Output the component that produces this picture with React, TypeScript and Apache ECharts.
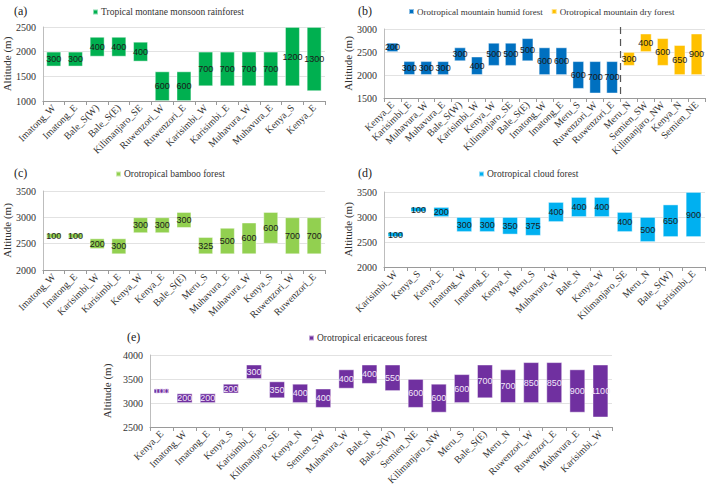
import React, { useEffect, useRef } from "react";
import * as echarts from "echarts";

// (a) Tropical montane monsoon rainforest
const aCats = ["Imatong_W", "Imatong_E", "Bale_S(W)", "Bale_S(E)", "Kilimanjaro_SE", "Ruwenzori_W", "Ruwenzori_E", "Karisimbi_W", "Karisimbi_E", "Muhavura_W", "Muhavura_E", "Kenya_S", "Kenya_E"];
const aLow = [1700, 1700, 1900, 1900, 1800, 1000, 1000, 1300, 1300, 1300, 1300, 1300, 1200];
const aRange = [300, 300, 400, 400, 400, 600, 600, 700, 700, 700, 700, 1200, 1300];

// (b) Orotropical mountain humid / dry forest
const bCats = ["Kenya_E", "Karisimbi_E", "Muhavura_W", "Muhavura_E", "Bale_S(W)", "Karisimbi_W", "Kenya_W", "Kilimanjaro_SE", "Bale_S(E)", "Imatong_W", "Imatong_E", "Meru_S", "Ruwenzori_W", "Ruwenzori_E", "Meru_N", "Semien_SW", "Kilimanjaro_NW", "Kenya_N", "Semien_NE"];
const bLow = [2500, 2000, 2000, 2000, 2300, 2000, 2200, 2200, 2300, 2000, 2000, 1700, 1600, 1600, 2200, 2500, 2200, 2000, 2000];
const bHumid: (number | string)[] = [200, 300, 300, 300, 300, 400, 500, 500, 500, 600, 600, 600, 700, 700, "-", "-", "-", "-", "-"];
const bDry: (number | string)[] = ["-", "-", "-", "-", "-", "-", "-", "-", "-", "-", "-", "-", "-", "-", 300, 400, 600, 650, 900];

// (c) Orotropical bamboo forest
const cCats = ["Imatong_W", "Imatong_E", "Karisimbi_W", "Karisimbi_E", "Kenya_W", "Kenya_E", "Bale_S(E)", "Meru_S", "Muhavura_E", "Muhavura_W", "Kenya_S", "Ruwenzori_W", "Ruwenzori_E"];
const cLow = [2600, 2600, 2400, 2300, 2700, 2700, 2800, 2300, 2300, 2300, 2500, 2300, 2300];
const cRange = [100, 100, 200, 300, 300, 300, 300, 325, 500, 600, 600, 700, 700];

// (d) Orotropical cloud forest
const dCats = ["Karisimbi_W", "Kenya_S", "Kenya_E", "Imatong_W", "Imatong_E", "Kenya_N", "Meru_S", "Muhavura_W", "Bale_N", "Kenya_W", "Kilimanjaro_SE", "Meru_N", "Bale_S(W)", "Karisimbi_E"];
const dLow = [2600, 3100, 3000, 2700, 2700, 2650, 2625, 2900, 3000, 3000, 2700, 2500, 2600, 2600];
const dRange = [100, 100, 200, 300, 300, 350, 375, 400, 400, 400, 400, 500, 650, 900];

// (e) Orotropical ericaceous forest
const eCats = ["Kenya_E", "Imatong_W", "Imatong_E", "Kenya_S", "Karisimbi_E", "Kilimanjaro_SE", "Kenya_N", "Semien_SW", "Muhavura_W", "Bale_N", "Bale_S(W)", "Semien_NE", "Kilimanjaro_NW", "Meru_S", "Bale_S(E)", "Meru_N", "Ruwenzori_W", "Ruwenzori_E", "Muhavura_E", "Karisimbi_W"];
const eLow = [3200, 3000, 3000, 3200, 3500, 3100, 3000, 2900, 3300, 3400, 3250, 2900, 2800, 3000, 3100, 3000, 3000, 3000, 2800, 2700];
const eRange = [100, 200, 200, 200, 300, 350, 400, 400, 400, 400, 550, 600, 600, 600, 700, 700, 850, 850, 900, 1100];

const SERIF = "Times New Roman, Liberation Serif, DejaVu Serif, serif";
const SANS = "Liberation Sans Narrow, Liberation Sans, sans-serif";
const AXIS = "#9a9a9a";

const panels = [
  { tag: "(a)", cats: aCats, min: 1000, max: 2500, grid: { left: 41, top: 27, width: 284, height: 74 }, nameGap: 27, tagPos: [14, 12] },
  { tag: "(b)", cats: bCats, min: 1500, max: 3000, grid: { left: 384, top: 29, width: 321, height: 69 }, nameGap: 27, tagPos: [358, 12] },
  { tag: "(c)", cats: cCats, min: 2000, max: 3500, grid: { left: 41, top: 191, width: 284, height: 79 }, nameGap: 27, tagPos: [14, 174] },
  { tag: "(d)", cats: dCats, min: 2000, max: 3500, grid: { left: 384, top: 192, width: 321, height: 75 }, nameGap: 27, tagPos: [358, 174] },
  { tag: "(e)", cats: eCats, min: 2500, max: 4000, grid: { left: 150, top: 355, width: 462, height: 72 }, nameGap: 34, tagPos: [127, 338] },
];

function baseSeries(idx: number, low: number[]) {
  return {
    name: "base" + idx,
    type: "bar",
    stack: "s" + idx,
    xAxisIndex: idx,
    yAxisIndex: idx,
    barCategoryGap: "32%",
    data: low,
    itemStyle: { color: "transparent" },
    emphasis: { disabled: true },
    silent: true,
  };
}

function rangeSeries(idx: number, name: string, data: (number | string)[], color: string, textColor: string) {
  return {
    name,
    type: "bar",
    stack: "s" + idx,
    xAxisIndex: idx,
    yAxisIndex: idx,
    barCategoryGap: "32%",
    data,
    itemStyle: { color, borderColor: "rgba(255,255,255,0.55)", borderWidth: 0.8 },
    label: {
      show: true,
      position: "inside",
      formatter: "{c}",
      color: textColor,
      fontFamily: SANS,
      fontSize: 9,
    },
  };
}

function legend(left: number, top: number, names: string[], size: number) {
  return {
    left,
    top,
    data: names,
    icon: "rect",
    itemWidth: 5,
    itemHeight: 5,
    itemGap: 8,
    padding: 0,
    textStyle: { fontFamily: SERIF, fontSize: size, color: "#333", padding: [0, 0, 0, -2] },
  };
}

export default function App() {
  const ref = useRef<HTMLDivElement>(null);

  useEffect(() => {
    if (!ref.current) return;
    const chart = echarts.init(ref.current, null, { renderer: "svg" });

    const option: any = {
      animation: false,
      backgroundColor: "#ffffff",
      textStyle: { fontFamily: SERIF },
      grid: panels.map((p) => ({ ...p.grid, containLabel: false })),
      xAxis: panels.map((p, i) => ({
        type: "category",
        gridIndex: i,
        data: p.cats,
        boundaryGap: true,
        axisLine: { lineStyle: { color: AXIS, width: 1 } },
        axisTick: { show: true, length: 4, lineStyle: { color: AXIS } },
        axisLabel: { interval: 0, rotate: 45, margin: 5, fontFamily: SERIF, fontSize: 10, color: "#333" },
        splitLine: { show: false },
      })),
      yAxis: panels.map((p, i) => ({
        type: "value",
        gridIndex: i,
        min: p.min,
        max: p.max,
        interval: 500,
        name: "Altitude (m)",
        nameLocation: "middle",
        nameGap: p.nameGap,
        nameTextStyle: { fontFamily: SERIF, fontSize: 11, color: "#333" },
        axisLine: { show: true, lineStyle: { color: "#bdbdbd" } },
        axisTick: { show: false },
        axisLabel: {
          margin: 7,
          fontFamily: SERIF,
          fontSize: 10,
          color: "#333",
          formatter: (v: number) => String(v),
        },
        splitLine: { show: true, lineStyle: { color: "#e2e2e2", width: 1 } },
      })),
      legend: [
        legend(92, 7, ["Tropical montane monsoon rainforest"], 9.5),
        legend(408, 7, ["Orotropical mountain humid forest", "Orotropical mountain dry forest"], 9),
        legend(115, 169, ["Orotropical bamboo forest"], 9.5),
        legend(478, 169, ["Orotropical cloud forest"], 9.5),
        legend(308, 333, ["Orotropical ericaceous forest"], 9.5),
      ],
      series: [
        baseSeries(0, aLow),
        rangeSeries(0, "Tropical montane monsoon rainforest", aRange, "#00b050", "#1a1a1a"),
        baseSeries(1, bLow),
        rangeSeries(1, "Orotropical mountain humid forest", bHumid, "#0070c0", "#1a1a1a"),
        rangeSeries(1, "Orotropical mountain dry forest", bDry, "#ffc000", "#1a1a1a"),
        baseSeries(2, cLow),
        rangeSeries(2, "Orotropical bamboo forest", cRange, "#92d050", "#1a1a1a"),
        baseSeries(3, dLow),
        rangeSeries(3, "Orotropical cloud forest", dRange, "#00b0f0", "#1a1a1a"),
        baseSeries(4, eLow),
        rangeSeries(4, "Orotropical ericaceous forest", eRange, "#7030a0", "#f3e8fa"),
      ],
    };
    chart.setOption(option);

    // Panel tags plus the dashed divider between humid and dry forest in (b)
    const graphic: any[] = panels.map((p) => ({
      type: "text",
      left: p.tagPos[0],
      top: p.tagPos[1] - 7,
      style: { text: p.tag, fontFamily: SERIF, fontSize: 12, fill: "#222" },
    }));
    const split = bCats.indexOf("Meru_N");
    const xa = chart.convertToPixel({ xAxisIndex: 1 }, split - 1) as number;
    const xb = chart.convertToPixel({ xAxisIndex: 1 }, split) as number;
    const yTop = chart.convertToPixel({ yAxisIndex: 1 }, 3000) as number;
    const yBot = chart.convertToPixel({ yAxisIndex: 1 }, 1500) as number;
    const xm = (xa + xb) / 2;
    graphic.push({
      type: "line",
      shape: { x1: xm, y1: yTop - 2, x2: xm, y2: yBot },
      style: { stroke: "#555", lineWidth: 1.2, lineDash: [7, 5] },
      z: 10,
    });
    chart.setOption({ graphic });

    return () => chart.dispose();
  }, []);

  return (
    <div
      ref={ref}
      style={{ position: "fixed", left: 0, top: 0, width: 709, height: 488, background: "#fff" }}
    />
  );
}
